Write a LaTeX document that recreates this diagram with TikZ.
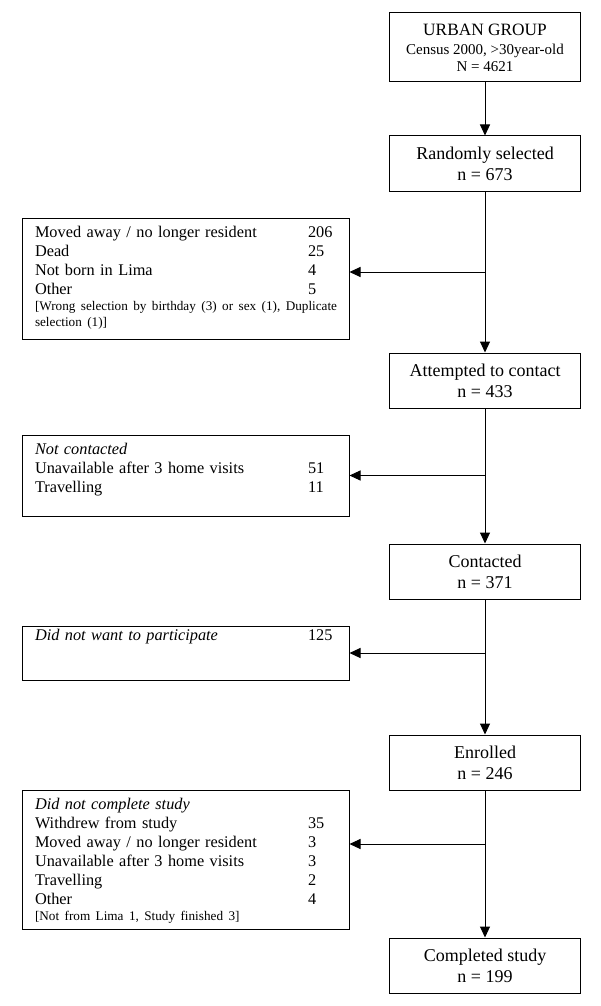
\documentclass[tikz,border=0pt]{standalone}
\usepackage{fontspec}
\setmainfont{Liberation Serif}
\usetikzlibrary{shapes.geometric, arrows, arrows.meta}
\tikzstyle{stage} = [font=\fontsize{18}{21}\selectfont, rectangle, minimum width=191pt, minimum height=55pt, inner sep=0pt, align=center, draw=black, line width=1pt]
\tikzstyle{loss} = [font=\fontsize{16.3}{19}\selectfont, rectangle, text width=301pt, inner xsep=13pt, inner ysep=4pt, text height=15pt, align=left, draw=black, line width=1pt]
\tikzstyle{arrow} = [line width=1pt, -{Triangle[length=11pt, width=10pt]}]
\newcommand{\lossrow}[2]{\makebox[273pt][l]{#1}#2}
\newcommand{\lossnote}[1]{{\fontsize{13.2}{16}\selectfont #1\par}}

\begin{document}
\begin{tikzpicture}[node distance=191pt]
  \useasboundingbox (0,0) rectangle (600pt,-1006pt);
  \node (urban) [stage, minimum height=69pt, font=\fontsize{15}{17}\selectfont] at (485pt,-47.5pt) {{\fontsize{17.3}{17}\selectfont URBAN GROUP}\\[2pt]
    Census 2000, >30year-old\\
    N = 4621};
  \node (selected) [stage, below of=urban, yshift=75pt]{Randomly selected\\ n = 673};
  \node (attempted) [stage, below of=selected, yshift=-26pt]{Attempted to contact\\ n = 433};
  \node (contacted) [stage, below of=attempted]{Contacted\\ n = 371};
  \node (enrolled) [stage, below of=contacted]{Enrolled\\ n = 246};
  \node (completed) [stage, below of=enrolled, yshift=-12pt]{Completed study\\ n = 199};
  \node (moved) [loss, text depth=98pt, left of=selected, xshift=-108.5pt, yshift=-115pt]{\lossrow{Moved away / no longer resident}{206}\\
    \lossrow{Dead}{25}\\
    \lossrow{Not born in Lima}{4}\\
    \lossrow{Other}{5}\par
    \lossnote{\mbox{[Wrong selection by birthday (3) or sex (1), Duplicate}\\ selection (1)]}};
  \node (notcontacted) [loss, text depth=58pt, left of=attempted, xshift=-108.5pt, yshift=-95pt]{\textit{Not contacted}\\
    \lossrow{Unavailable after 3 home visits}{51}\\
    \lossrow{Travelling}{11}};
  \node (declined) [loss, text height=10pt, text depth=36pt, left of=contacted, xshift=-108.5pt, yshift=-81.5pt]{\lossrow{\textit{Did not want to participate}}{125}};
  \node (dropout) [loss, text depth=116pt, left of=enrolled, xshift=-108.5pt, yshift=-97pt]{\textit{Did not complete study}\\
    \lossrow{Withdrew from study}{35}\\
    \lossrow{Moved away / no longer resident}{3}\\
    \lossrow{Unavailable after 3 home visits}{3}\\
    \lossrow{Travelling}{2}\\
    \lossrow{Other}{4}\par
    \lossnote{[Not from Lima 1, Study finished 3]}};
  \draw[arrow](urban) -- (selected);
  \draw[arrow](selected) -- (attempted);
  \draw[arrow](attempted) -- (contacted);
  \draw[arrow](contacted) -- (enrolled);
  \draw[arrow](enrolled) -- (completed);
  % side exits
  \draw[arrow]([yshift=6.5pt]moved.east -| selected.south) -- ([yshift=6.5pt]moved.east);
  \draw[arrow](notcontacted.east -| attempted.south) -- (notcontacted.east);
  \draw[arrow](declined.east -| contacted.south) -- (declined.east);
  \draw[arrow]([yshift=15.5pt]dropout.east -| enrolled.south) -- ([yshift=15.5pt]dropout.east);
\end{tikzpicture}
\end{document}
